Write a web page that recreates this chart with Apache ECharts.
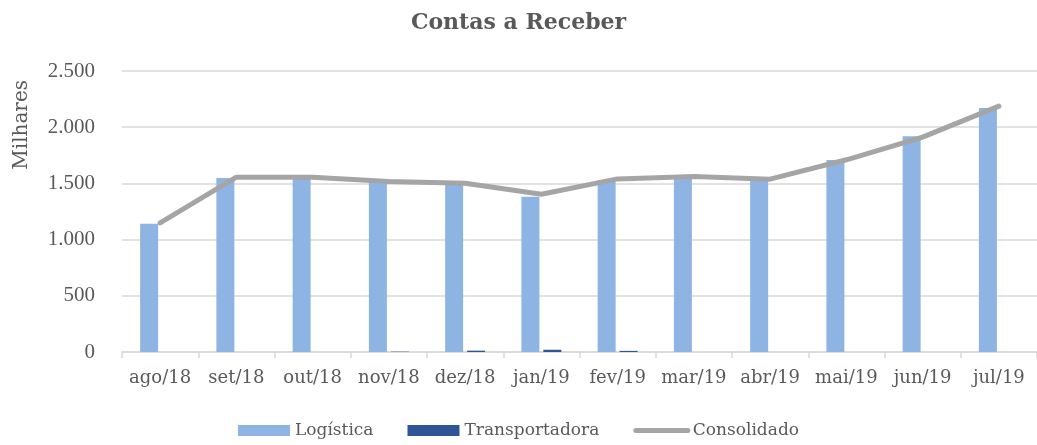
<!DOCTYPE html>
<html lang="pt-BR">

<head>
  <meta charset="utf-8" />
  <title>Contas a Receber</title>
  <script src="https://cdn.jsdelivr.net/npm/echarts@6/dist/echarts.min.js"></script>
  <style>
    * {
      margin: 0;
      padding: 0;
    }

    #chart-container {
      position: relative;
      width: 1037px;
      height: 445px;
      overflow: hidden;
      background: #fff;
    }
  </style>
</head>

<body>
  <div id="chart-container"></div>

  <script>
    // valores em milhares
    var meses = ["ago/18", "set/18", "out/18", "nov/18", "dez/18", "jan/19", "fev/19", "mar/19", "abr/19", "mai/19", "jun/19", "jul/19"];
    var logistica = [1140, 1548, 1545, 1510, 1490, 1382, 1530, 1550, 1528, 1708, 1920, 2170];
    var transportadora = [0, 0, 0, 3, 12, 20, 10, 0, 0, 0, 0, 0];
    var consolidado = [1148, 1555, 1555, 1516, 1502, 1404, 1540, 1562, 1538, 1710, 1912, 2188];
    var yTicks = [0, 500, 1000, 1500, 2000, 2500];

    var fonte = '"DejaVu Serif", "Liberation Serif", serif';
    var fonteNum = '"Liberation Serif", "DejaVu Serif", serif';
    var cinza = "#595959";

    var dom = document.getElementById("chart-container");
    var myChart = echarts.init(dom, null, { renderer: "canvas" });

    var option = {
      animation: false,
      title: {
        text: "Contas a Receber",
        left: "center",
        top: 7,
        textStyle: { fontFamily: fonte, fontSize: 22, fontWeight: "bold", color: cinza }
      },
      legend: {
        bottom: 1,
        left: "center",
        itemWidth: 52,
        itemHeight: 11,
        itemGap: 34,
        textStyle: { fontFamily: fonte, fontSize: 17, color: cinza },
        data: [
          { name: "Logística", icon: "rect" },
          { name: "Transportadora", icon: "rect" },
          {
            name: "Consolidado",
            itemStyle: { opacity: 0 },
            lineStyle: { width: 5, cap: "round", color: "#a5a5a5" }
          }
        ]
      },
      graphic: [{
        type: "text",
        left: 12,
        top: 80,
        rotation: Math.PI / 2,
        style: { text: "Milhares", font: "20px " + fonte, fill: cinza }
      }],
      grid: { left: 122, right: -6, top: 71, bottom: 93, containLabel: false },
      xAxis: {
        type: "category",
        data: meses,
        axisLine: { lineStyle: { color: "#d9d9d9", width: 1.5 } },
        axisTick: { show: true, length: 6, lineStyle: { color: "#d9d9d9", width: 1.5 } },
        axisLabel: { interval: 0, fontFamily: fonte, fontSize: 18, color: cinza, margin: 17 }
      },
      yAxis: {
        type: "value",
        min: yTicks[0],
        max: yTicks[yTicks.length - 1],
        interval: 500,
        axisLine: { show: false },
        axisTick: { show: false },
        axisLabel: {
          fontFamily: fonteNum, fontSize: 21, color: cinza, margin: 27,
          formatter: function (v) { return v.toLocaleString("pt-BR"); }
        },
        splitLine: { lineStyle: { color: "#d9d9d9", width: 1.5 } }
      },
      series: [
        {
          name: "Logística",
          type: "bar",
          data: logistica,
          barWidth: 18,
          barGap: "22%",
          itemStyle: { color: "#8eb4e3" }
        },
        {
          name: "Transportadora",
          type: "bar",
          data: transportadora,
          barWidth: 18,
          itemStyle: { color: "#2f5597" }
        },
        {
          name: "Consolidado",
          type: "line",
          data: consolidado,
          symbol: "none",
          lineStyle: { color: "#a5a5a5", width: 5, cap: "round" },
          itemStyle: { color: "#a5a5a5" },
          z: 5
        }
      ]
    };

    myChart.setOption(option);
    window.addEventListener("resize", myChart.resize);
  </script>
</body>

</html>
